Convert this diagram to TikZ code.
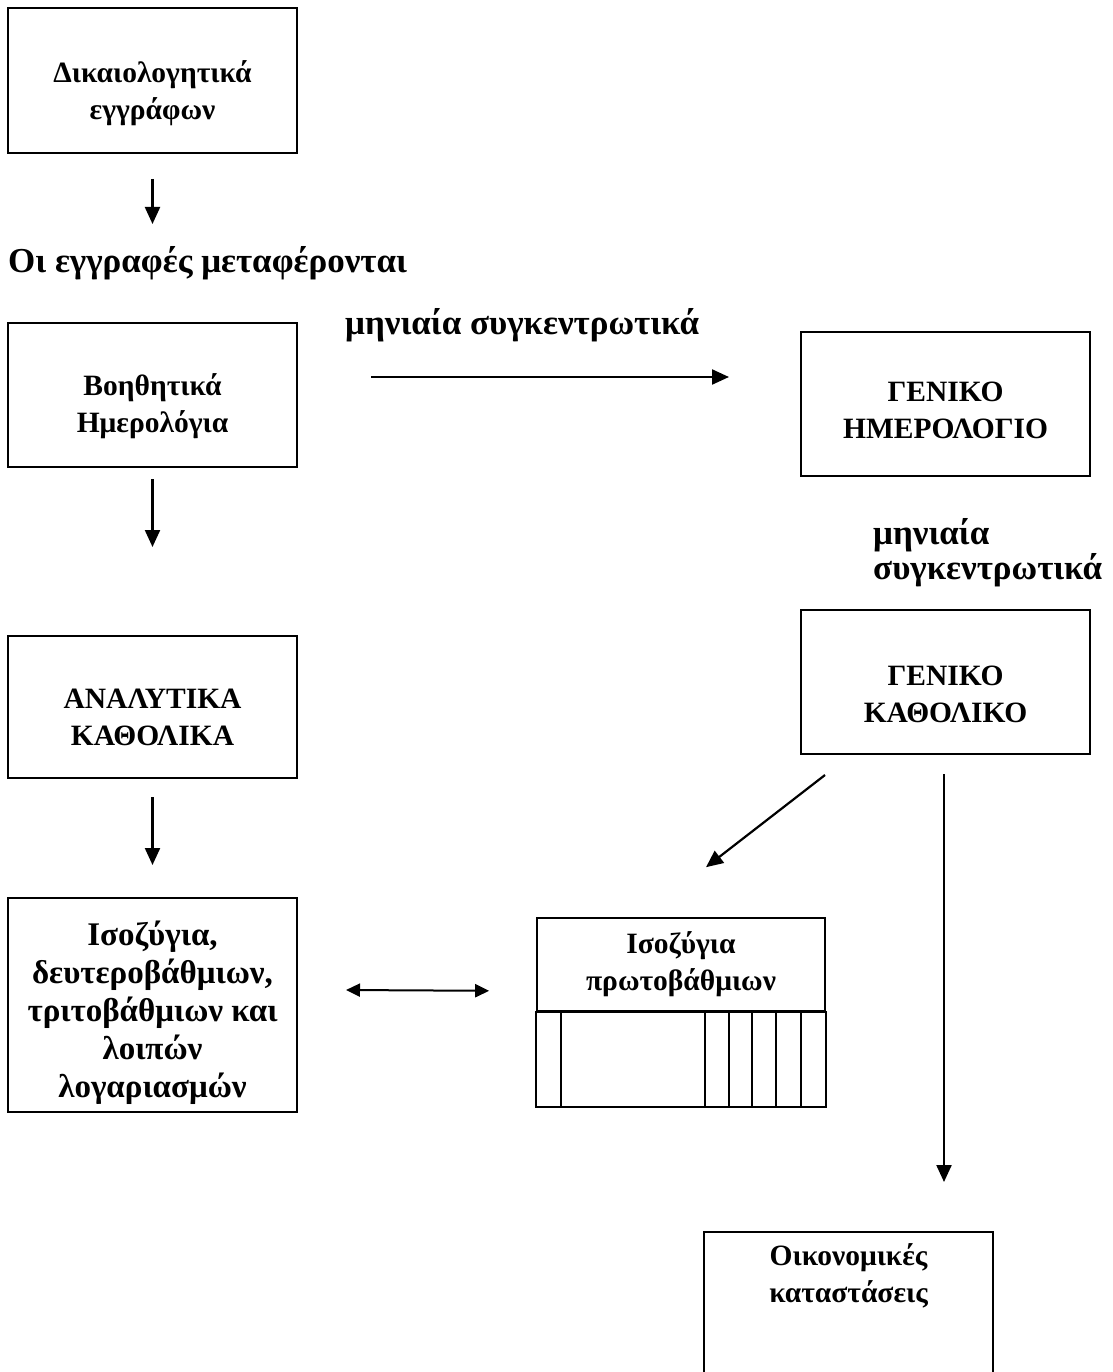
\documentclass[tikz,border=0pt]{standalone}
\usepackage{fontspec}
\setmainfont{Liberation Serif}
\usetikzlibrary{arrows.meta}
\begin{document}
\begin{tikzpicture}[x=1pt,y=-1pt,
  box/.style={draw, line width=2pt, minimum width=289pt, inner sep=0pt},
  boxtext/.style={inner sep=0pt, align=center, font=\bfseries\fontsize{29.5}{37}\selectfont},
  bigtext/.style={inner sep=0pt, align=center, font=\bfseries\fontsize{33}{38}\selectfont},
  lbl/.style={font=\bfseries\fontsize{35}{35}\selectfont, inner sep=0pt, anchor=west, align=left},
  arr/.style={line width=2.2pt, -{Triangle[length=17pt,width=15pt]}},
  darr/.style={line width=2pt, {Triangle[length=14pt,width=13pt]}-{Triangle[length=14pt,width=13pt]}},
  tbl/.style={draw, line width=1.6pt},
]
\useasboundingbox (0,0) rectangle (1112,1372);
\clip (0,0) rectangle (1112,1372);

% boxes
\node[box, minimum height=145pt] (dik) at (152.5,80.5) {};
\node[box, minimum height=144pt] (voi) at (152.5,395) {};
\node[box, minimum height=144pt] (ghm) at (945.5,404) {};
\node[box, minimum height=144pt] (gka) at (945.5,682) {};
\node[box, minimum height=142pt] (ana) at (152.5,707) {};
\node[box, minimum height=214pt] (iso) at (152.5,1005) {};
\node[box, line width=1.6pt, minimum width=288pt, minimum height=93pt] (ptb) at (681,964.5) {};
\node[box, minimum height=180pt, anchor=north] (oik) at (848.5,1231) {};

% box texts
\node[boxtext] (dikt) at ([yshift=-13pt]dik.center) {Δικαιολογητικά\\εγγράφων};
\node[boxtext] (voit) at ([yshift=-11pt]voi.center) {Βοηθητικά\\Ημερολόγια};
\node[boxtext] (ghmt) at ([yshift=-6pt]ghm.center) {ΓΕΝΙΚΟ\\ΗΜΕΡΟΛΟΓΙΟ};
\node[boxtext] (gkat) at ([yshift=-12pt]gka.center) {ΓΕΝΙΚΟ\\ΚΑΘΟΛΙΚΟ};
\node[boxtext] (anat) at ([yshift=-10pt]ana.center) {ΑΝΑΛΥΤΙΚΑ\\ΚΑΘΟΛΙΚΑ};
\node[bigtext] (isot) at ([yshift=-8pt]iso.center) {Ισοζύγια,\\δευτεροβάθμιων,\\τριτοβάθμιων και\\λοιπών\\λογαριασμών};
\node[boxtext] (ptbt) at ([yshift=0pt]ptb.center) {Ισοζύγια\\πρωτοβάθμιων};
\node[boxtext] (oikt) at ([yshift=-44.5pt]oik.north) {Οικονομικές\\καταστάσεις};

% table part
\draw[tbl] (ptb.south west) rectangle ([yshift=-95pt]ptb.south east);
\foreach \dx in {25,169,193,216,240,265}
  \draw[tbl] ([xshift=\dx pt]ptb.south west) -- ([xshift=\dx pt, yshift=-95pt]ptb.south west);

% labels
\node[lbl] (oi) at (8,263) {Οι εγγραφές μεταφέρονται};
\node[lbl] (mc1) at (345,325) {μηνιαία συγκεντρωτικά};
\node[lbl] (mc2) at (873,553) {μηνιαία\\συγκεντρωτικά};

% connectors
\draw[arr] ([yshift=-25pt]dik.south) -- ([yshift=-70pt]dik.south);
\draw[arr] ([xshift=73pt,yshift=18pt]voi.east) -- ([xshift=-71pt,yshift=27pt]ghm.west);
\draw[arr] ([yshift=-11pt]voi.south) -- ([yshift=-79pt]voi.south);
\draw[arr] ([yshift=-18pt]ana.south) -- ([yshift=-86pt]ana.south);
\draw[arr] ([xshift=-120.5pt,yshift=-20pt]gka.south) -- ([xshift=25pt,yshift=50pt]ptb.north);
\draw[arr] ([xshift=-1.5pt,yshift=-19pt]gka.south) -- ([xshift=95.5pt,yshift=49pt]oik.north);
\draw[darr] ([xshift=48pt,yshift=15pt]iso.east) -- ([xshift=-47pt,yshift=21pt]ptb.south west);
\end{tikzpicture}
\end{document}
